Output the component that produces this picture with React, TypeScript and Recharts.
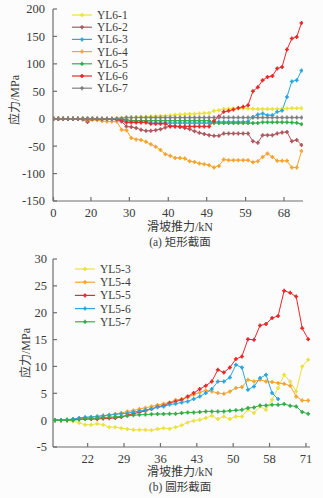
import React from 'react';
import { LineChart, Line, XAxis, YAxis } from 'recharts';

// ---------- (a) rectangular section ----------
const rectTickPos = [0, 7.7, 15.6, 23.6, 31.5, 39.5, 47.4];
const rectTickLabels = ['0', '20', '30', '40', '49', '59', '68'];
const rectYTicks = [-150, -100, -50, 0, 50, 100, 150, 200];
const rectNames = ['YL6-1', 'YL6-2', 'YL6-3', 'YL6-4', 'YL6-5', 'YL6-6', 'YL6-7'];
const rectColors = ['#ece23e', '#b3565f', '#2aa7df', '#f5a52e', '#35ae4a', '#e8292b', '#808080'];

const yl6_1 = [0, 0, 0, 0, 0, 0, 0, 0, 0, 0, 0, 0, 0, 1, 1.5, 2, 2, 2.5, 3, 3.5, 4, 4.5, 5, 5.5, 6, 7, 7.5, 8, 8.5, 9, 9.5, 10, 10.5, 14.5, 15.5, 17.5, 18, 18.5, 18.5, 18.5, 18.5, 18, 17.5, 17.5, 17.5, 17.5, 18, 18, 18.5, 19, 19, 19];
const yl6_2 = [0, 0, 0, 0, 0, -0.5, -1, -6, -1, -1, -1, -1, -1, -2, -5, -14, -15, -17, -20, -22, -22, -21, -19, -16, -13, -13.7, -15, -16.7, -19, -22.8, -25.8, -28, -30, -31, -31, -27, -27, -27, -27, -27, -27, -41, -44, -30, -30, -30, -27, -25, -24, -41, -39, -48];
const yl6_3 = [0, 0, 0, 0, 0, 0, 0, 0, 0, 0, -1, -1, -1, -1, -1, -4, -4, -4, -4, -4, -8, -8, -8, -8, -8, -8, -8, -8, -8, -8, -8, -8, -8, -6, -6, -6, -6, -6, -6, -6, -5, 3, 7.5, 9.4, 6.4, 6.4, 12.5, 14.9, 39.8, 68, 70, 88];
const yl6_4 = [0, 0, 0, 0, 0, 0, -1, -2, -2, -3, -4, -5, -5, -5, -20, -21, -35, -37.7, -38.6, -42, -46.5, -51, -57, -64.7, -67.7, -71.4, -71.4, -72.6, -77.5, -78.7, -81.7, -82.9, -84.7, -89, -86, -74.4, -75.6, -75.6, -75.6, -75.6, -75.6, -79.3, -77.5, -69.6, -63.5, -69.6, -76.8, -76.8, -76.8, -89, -89, -59];
const yl6_5 = [0, 0, 0, 0, 0, 0, 0, 0, 0, 0, -1, -1, -1, -1, -1, -2, -3.5, -3.5, -3.5, -3.5, -3.5, -3.5, -3.5, -3.5, -3.5, -3.5, -3.5, -3.5, -3.5, -3.5, -3.5, -3.5, -3.5, -8, -8, -8, -8, -8, -8, -8, -8, -8, -8, -6.5, -6.5, -6.5, -6.5, -6.5, -6.5, -7, -7.5, -10];
const yl6_6 = [0, 0, 0, 0, 0, 0, 0, 0, 0, 0, 0, 0, 0, -1, -3, -7, -7, -7, -7, -7, -9, -9, -9, -9, -14, -14, -14, -14, -14, -14, -14, -14, -14, -4, 4, 12.5, 14.3, 16.7, 19.7, 21.6, 24.6, 50, 57.4, 70, 76, 78, 91.4, 94.4, 126, 146, 149, 174.7];
const yl6_7 = [0, 0, 0, 0, 0, 0, 0, 0, 0, 0, 0, 0, 0, 0.5, 1, 2, 2, 2, 2, 2, 2, 2, 2, 2, 2, 2, 2, 2, 2, 2, 2, 2, 2, 2, 2, 2, 2, 2, 2, 2, 2, 2, 2, 2, 2, 2, 2, 2, 2, 2, 2, 2];

// ---------- (b) circular section ----------
const circTickPos = [5.42, 11.45, 17.49, 23.52, 29.55, 35.58, 41.62];
const circTickLabels = ['22', '29', '36', '43', '50', '58', '71'];
const circYTicks = [-5, 0, 5, 10, 15, 20, 25, 30];
const circNames = ['YL5-3', 'YL5-4', 'YL5-5', 'YL5-6', 'YL5-7'];
const circColors = ['#ece23e', '#f5a52e', '#e8292b', '#2aa7df', '#35ae4a'];

const yl5_3 = [0, 0, 0, -0.2, -0.5, -0.85, -0.85, -0.66, -0.85, -1.3, -1.3, -1.5, -1.65, -1.8, -1.8, -1.8, -1.9, -1.65, -1.5, -1.6, -1.3, -0.97, -0.42, -0.1, 0.08, 0.39, 0.82, 0.2, 0.7, 0.2, 0.7, 0.7, 1.94, 1.32, 2.56, 1.94, 3.8, 5.97, 8.44, 7.2, 5.35, 10, 11.25];
const yl5_4 = [0, 0, 0, 0.1, 0.3, 0.45, 0.6, 0.7, 0.85, 1.0, 1.15, 1.35, 1.6, 1.8, 2.06, 2.3, 2.56, 2.8, 3.05, 3.3, 3.75, 3.92, 4.29, 4.73, 5.16, 5.53, 5.35, 5.04, 4.91, 5.35, 5.97, 6.15, 7.52, 7.2, 7.52, 7.2, 7.08, 6.9, 6.77, 6.4, 4.42, 3.67, 3.67];
const yl5_5 = [0, 0, 0, 0.1, 0.2, 0.2, 0.2, 0.2, 0.3, 0.35, 0.4, 0.6, 0.9, 1.2, 1.45, 1.74, 2.06, 2.5, 2.7, 3.2, 3.49, 3.8, 4.42, 5.04, 5.78, 6.4, 7.2, 9.37, 8.88, 9.81, 11.36, 11.85, 15.07, 14.95, 17.6, 17.9, 19, 19.4, 24.1, 23.7, 23, 17.1, 15.07];
const yl5_6 = [0, 0, 0.1, 0.2, 0.4, 0.55, 0.6, 0.7, 0.8, 0.95, 1.07, 1.2, 1.3, 1.5, 1.7, 1.9, 2.1, 2.4, 2.55, 2.9, 3.05, 3.3, 3.49, 3.92, 4.42, 5.04, 5.78, 7.2, 7.2, 7.96, 10.3, 9.81, 5.66, 6.28, 7.83, 8.44, 5.04, 3.92, null, null, null, null, null];
const yl5_7 = [0, 0, 0, 0, 0.1, 0.2, 0.3, 0.4, 0.5, 0.55, 0.6, 0.7, 0.8, 0.9, 1.0, 1.05, 1.1, 1.15, 1.15, 1.2, 1.2, 1.32, 1.44, 1.44, 1.5, 1.63, 1.63, 1.63, 1.63, 1.75, 1.82, 1.94, 2.25, 2.37, 2.74, 2.74, 2.87, 2.87, 2.99, 2.68, 2.56, 1.5, 1.2];

const rectSeries = [yl6_1, yl6_2, yl6_3, yl6_4, yl6_5, yl6_6, yl6_7];
const circSeries = [yl5_3, yl5_4, yl5_5, yl5_6, yl5_7];

const rectData = yl6_1.map((_, i) => {
  const row: any = { i };
  rectSeries.forEach((s, k) => (row['s' + k] = s[i]));
  return row;
});
const circData = yl5_3.map((_, i) => {
  const row: any = { i };
  circSeries.forEach((s, k) => (row['s' + k] = s[i]));
  return row;
});

const SERIF = '"Liberation Serif", "Times New Roman", "Noto Sans CJK SC", serif';
const AXIS = '#6e6e6e';
const TXT = '#3a3a3a';

const markPath = (x: number, y: number) =>
  `M${x - 2},${y}H${x + 2}M${x},${y - 2}V${y + 2}`;

const makeDot = (color: string) => (props: any) => {
  const { cx, cy, index, value } = props;
  if (cx == null || cy == null || value == null || Number.isNaN(cy)) return <g key={'d' + index} />;
  return (
    <g key={'d' + index}>
      <path d={markPath(cx, cy)} stroke={color} strokeWidth={1.5} fill="none" />
      <circle cx={cx} cy={cy} r={1.2} fill={color} />
    </g>
  );
};

const tickStyle = { fontFamily: SERIF, fontSize: 12.5, fill: TXT };

function Legend({ names, colors, x, y0, step, textX }: any) {
  return (
    <g>
      {names.map((n: string, k: number) => {
        const y = y0 + k * step;
        const mid = (x + textX - 5) / 2;
        return (
          <g key={n}>
            <line x1={x} x2={textX - 5} y1={y} y2={y} stroke={colors[k]} strokeWidth={1.2} />
            <path d={markPath(mid, y)} stroke={colors[k]} strokeWidth={1.5} />
            <circle cx={mid} cy={y} r={1.2} fill={colors[k]} />
            <text x={textX} y={y} dy="0.35em" fontFamily={SERIF} fontSize={11.5} fill={TXT}>
              {n}
            </text>
          </g>
        );
      })}
    </g>
  );
}

export default function App() {
  return (
    <div style={{ position: 'absolute', left: 0, top: 0, width: 323, height: 498, background: '#fcfcfc' }}>
      <div style={{ position: 'absolute', left: 0, top: 0 }}>
        <LineChart width={323} height={250} data={rectData} margin={{ top: 9, right: 20, left: 0, bottom: 0 }}>
          <XAxis
            dataKey="i"
            type="number"
            domain={[-0.1, 51.3]}
            ticks={rectTickPos}
            tickFormatter={(v: number) => rectTickLabels[rectTickPos.indexOf(v)]}
            interval={0}
            height={49}
            tickSize={-4}
            tickMargin={11.5}
            tick={tickStyle}
            stroke={AXIS}
            strokeWidth={1.2}
            allowDataOverflow
          />
          <YAxis
            type="number"
            domain={[-150, 200]}
            ticks={rectYTicks}
            interval={0}
            width={53}
            tickSize={-4}
            tickMargin={12}
            tick={tickStyle}
            stroke={AXIS}
            strokeWidth={1.2}
          />
          {rectNames.map((n, k) => (
            <Line
              key={n}
              dataKey={'s' + k}
              name={n}
              type="linear"
              stroke={rectColors[k]}
              strokeWidth={1}
              dot={makeDot(rectColors[k])}
              activeDot={false}
              isAnimationActive={false}
            />
          ))}
        </LineChart>
      </div>
      <div style={{ position: 'absolute', left: 0, top: 250 }}>
        <LineChart width={323} height={248} data={circData} margin={{ top: 9, right: 13, left: 0, bottom: 0 }}>
          <XAxis
            dataKey="i"
            type="number"
            domain={[-0.33, 42.29]}
            ticks={circTickPos}
            tickFormatter={(v: number) => circTickLabels[circTickPos.indexOf(v)]}
            interval={0}
            height={51}
            tickSize={-4}
            tickMargin={11.5}
            tick={tickStyle}
            stroke={AXIS}
            strokeWidth={1.2}
            allowDataOverflow
          />
          <YAxis
            type="number"
            domain={[-5, 30]}
            ticks={circYTicks}
            interval={0}
            width={53}
            tickSize={-4}
            tickMargin={10}
            tick={tickStyle}
            stroke={AXIS}
            strokeWidth={1.2}
          />
          {circNames.map((n, k) => (
            <Line
              key={n}
              dataKey={'s' + k}
              name={n}
              type="linear"
              stroke={circColors[k]}
              strokeWidth={1}
              dot={makeDot(circColors[k])}
              activeDot={false}
              connectNulls={false}
              isAnimationActive={false}
            />
          ))}
        </LineChart>
      </div>
      <svg width={323} height={498} style={{ position: 'absolute', left: 0, top: 0, pointerEvents: 'none' }}>
        <Legend names={rectNames} colors={rectColors} x={72} y0={15} step={12.2} textX={97} />
        <Legend names={circNames} colors={circColors} x={75} y0={269} step={13.2} textX={100} />
        <text x={180} y={227} dy="0.35em" textAnchor="middle" fontFamily={SERIF} fontSize={12} fill={TXT}>滑坡推力/kN</text>
        <text x={180} y={242} dy="0.35em" textAnchor="middle" fontFamily={SERIF} fontSize={11.5} fill={TXT}>(a) 矩形截面</text>
        <text x={180} y={472} dy="0.35em" textAnchor="middle" fontFamily={SERIF} fontSize={12} fill={TXT}>滑坡推力/kN</text>
        <text x={180} y={487} dy="0.35em" textAnchor="middle" fontFamily={SERIF} fontSize={11.5} fill={TXT}>(b) 圆形截面</text>
        <text transform="translate(15,100) rotate(-90)" dy="0.35em" textAnchor="middle" fontFamily={SERIF} fontSize={12} fill={TXT}>应力/MPa</text>
        <text transform="translate(26,353) rotate(-90)" dy="0.35em" textAnchor="middle" fontFamily={SERIF} fontSize={12} fill={TXT}>应力/MPa</text>
      </svg>
    </div>
  );
}
